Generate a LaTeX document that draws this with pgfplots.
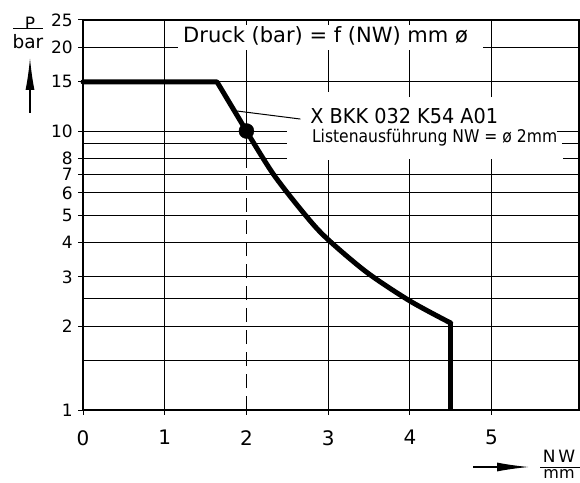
\documentclass[border=0pt]{standalone}
\usepackage{fontspec}
\setmainfont{DejaVu Sans}
\usepackage{pgfplots}
\pgfplotsset{compat=1.18}
\usetikzlibrary{arrows.meta}
\begin{document}
\begin{tikzpicture}[x=1pt,y=1pt]
\useasboundingbox (0,0) rectangle (580,482);
\begin{axis}[
  at={(83pt,72pt)}, anchor=south west,
  scale only axis, width=496pt, height=390pt,
  xmin=0, xmax=6.07,
  ymode=log, ymin=1, ymax=25,
  xtick={0,1,2,3,4,5},
  xticklabels={0,1,2,3,4,5},
  ytick={1,2,3,4,5,6,7,8,10,15,20,25},
  yticklabels={1,2,3,4,5,6,7,8,10,15,20,25},
  minor ytick={}, minor xtick={},
  tick pos=left, tick align=outside,
  major tick length=5pt,
  every tick/.style={black, line width=1pt},
  axis line style={black, line width=1.7pt},
  /pgf/number format/assume math mode=true,
  xticklabel style={font=\fontsize{20}{24}\selectfont, anchor=north, inner sep=0pt, yshift=-15pt},
  yticklabel style={font=\fontsize{17}{20}\selectfont, anchor=east, inner sep=0pt, xshift=-5pt},
  clip=false,
]
% horizontal grid
\foreach \v in {1.5,2,2.5,3,4,5,6,7,15} {
  \edef\temp{\noexpand\draw[line width=1pt] (axis cs:0,\v) -- (axis cs:6.07,\v);}
  \temp
}
\draw[line width=1pt] (axis cs:0,20) -- (axis cs:1.16,20);
\draw[line width=1pt] (axis cs:4.9,20) -- (axis cs:6.07,20);
\draw[line width=1pt] (axis cs:0,10) -- (axis cs:2.5,10);
\draw[line width=1pt] (axis cs:5.8,10) -- (axis cs:6.07,10);
\draw[line width=1pt] (axis cs:0,9) -- (axis cs:2.5,9);
\draw[line width=1pt] (axis cs:5.86,9) -- (axis cs:6.07,9);
\draw[line width=1pt] (axis cs:0,8) -- (axis cs:2.5,8);
\draw[line width=1pt] (axis cs:5.88,8) -- (axis cs:6.07,8);
% vertical grid
\draw[line width=1pt] (axis cs:1,1) -- (axis cs:1,25);
\draw[line width=1pt, dash pattern=on 14pt off 8pt] (axis cs:2,1) -- (axis cs:2,8.3);
\draw[line width=1pt] (axis cs:2,8.3) -- (axis cs:2,19.5);
\draw[line width=1pt] (axis cs:2,24) -- (axis cs:2,25);
\draw[line width=1pt] (axis cs:3,1) -- (axis cs:3,7.87);
\draw[line width=1pt] (axis cs:3,13.8) -- (axis cs:3,19.5);
\draw[line width=1pt] (axis cs:3,24) -- (axis cs:3,25);
\draw[line width=1pt] (axis cs:4,1) -- (axis cs:4,7.95);
\draw[line width=1pt] (axis cs:4,13.24) -- (axis cs:4,19.5);
\draw[line width=1pt] (axis cs:4,24) -- (axis cs:4,25);
\draw[line width=1pt] (axis cs:5,1) -- (axis cs:5,7.95);
\draw[line width=1pt] (axis cs:5,13.24) -- (axis cs:5,25);
% curve
\addplot[black, line width=5pt, line join=round, line cap=round] coordinates {(0,15) (1.64,15) (2,10)};
\addplot[black, line width=5pt, smooth, line cap=round] coordinates {(2,10) (2.33,7.0) (2.72,5.0) (2.98,4.13) (3.47,3.12) (4.0,2.46) (4.5,2.05)};
\addplot[black, line width=5.5pt, line join=round] coordinates {(4.5,2.05) (4.5,1)};
\addplot[black, only marks, mark=*, mark size=7.5pt] coordinates {(2,10)};
% leader
\draw[line width=1pt] (axis cs:1.88,11.8) -- (axis cs:2.66,11.04);
% texts
\node[anchor=west, inner sep=0pt, font=\fontsize{21}{25}\selectfont] at (axis cs:1.224,21.9) {Druck (bar) = f (NW) mm ø};
\node[anchor=west, inner sep=0pt, font=\fontsize{20.5}{24}\selectfont] at (axis cs:2.78,11.32) {\scalebox{0.94}[1]{X BKK 032 K54 A01}};
\node[anchor=west, inner sep=0pt, font=\fontsize{17.5}{21}\selectfont] at (axis cs:2.80,9.44) {\scalebox{0.89}[1]{Listenausführung NW = ø 2mm}};
\end{axis}
% y label
\node[font=\fontsize{17}{20}\selectfont, inner sep=0pt] at (30,459) {P};
\draw[line width=1pt] (13,453) -- (43,453);
\node[font=\fontsize{18.5}{22}\selectfont, inner sep=0pt] at (28,440) {bar};
\draw[line width=1.3pt, -{Latex[length=32pt,width=9pt]}] (30,369) -- (30,424);
% x label
\draw[line width=1.3pt, -{Latex[length=32pt,width=9pt]}] (473,15) -- (529,15);
\node[font=\fontsize{17}{20}\selectfont, inner sep=0pt] at (559,25.5) {N\,W};
\draw[line width=1pt] (540,15) -- (580,15);
\node[font=\fontsize{16}{19}\selectfont, inner sep=0pt] at (559,7.5) {mm};
\end{tikzpicture}
\end{document}
